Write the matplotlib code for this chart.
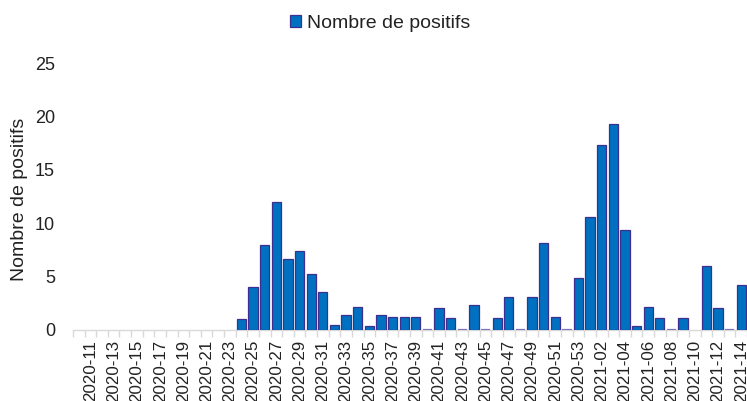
import numpy as np
import matplotlib
matplotlib.use('Agg')
import matplotlib.pyplot as plt
from matplotlib.patches import Patch

plt.rcParams['font.family'] = ['Liberation Sans', 'DejaVu Sans']

# semaines (la premiere categorie n'a pas d'etiquette affichee)
semaines = ['2020-10', '2020-11', '2020-12', '2020-13', '2020-14', '2020-15', '2020-16',
            '2020-17', '2020-18', '2020-19', '2020-20', '2020-21', '2020-22', '2020-23',
            '2020-24', '2020-25', '2020-26', '2020-27', '2020-28', '2020-29', '2020-30',
            '2020-31', '2020-32', '2020-33', '2020-34', '2020-35', '2020-36', '2020-37',
            '2020-38', '2020-39', '2020-40', '2020-41', '2020-42', '2020-43', '2020-44',
            '2020-45', '2020-46', '2020-47', '2020-48', '2020-49', '2020-50', '2020-51',
            '2020-52', '2020-53', '2021-01', '2021-02', '2021-03', '2021-04', '2021-05',
            '2021-06', '2021-07', '2021-08', '2021-09', '2021-10', '2021-11', '2021-12',
            '2021-13', '2021-14']

nan = np.nan
positifs = [nan, nan, nan, nan, nan, nan, nan,
            nan, nan, nan, nan, nan, nan, nan,
            1.0, 4.0, 8.0, 12.0, 6.7, 7.4, 5.25,
            3.6, 0.45, 1.4, 2.2, 0.35, 1.4, 1.2,
            1.2, 1.2, 0, 2.05, 1.1, 0, 2.35,
            0, 1.1, 3.1, 0, 3.1, 8.2, 1.2,
            0, 4.85, 10.55, 17.3, 19.3, 9.4, 0.4,
            2.15, 1.1, 0, 1.1, nan, 6.0, 2.05,
            0, 4.2]

bleu = '#0070C0'
bord = '#3B2F8F'
gris = '#D9D9D9'
texte = '#222222'

fig = plt.figure(figsize=(7.47, 4.01), dpi=100)
ax = fig.add_axes([73 / 747, 71 / 401, 1 - 73 / 747, 266.7 / 401])

x = np.arange(len(semaines))
vals = np.array(positifs, dtype=float)
ax.bar(x, vals, width=0.8, color=bleu, edgecolor=bord, linewidth=0.9, zorder=3)

# les barres a zero restent visibles comme un trait
zeros = x[vals == 0]
ax.hlines(np.zeros(len(zeros)), zeros - 0.4, zeros + 0.4, color='#7E72BE',
          linewidth=1.6, zorder=4)

ax.set_xlim(-0.5, 57.3)
ax.set_ylim(0, 25)
ax.set_yticks(np.arange(0, 26, 5))

# etiquettes une semaine sur deux
ax.set_xticks(x[1::2])
ax.set_xticklabels(semaines[1::2], rotation=90)
ax.set_xticks(np.arange(-0.5, len(semaines), 1), minor=True)
ax.tick_params(axis='x', which='major', length=0, pad=7, labelsize=12.2, labelcolor=texte)
ax.tick_params(axis='x', which='minor', length=5, width=1, color=gris, direction='out')
ax.tick_params(axis='y', length=0, pad=13, labelsize=13, labelcolor=texte)

for s in ['top', 'right', 'left']:
    ax.spines[s].set_visible(False)
ax.spines['bottom'].set_color(gris)
ax.spines['bottom'].set_linewidth(1)

ax.set_ylabel('Nombre de positifs', fontsize=14, color=texte)
ax.yaxis.set_label_coords((20 - 73) / 674, 0.49)
ax.yaxis.label.set_va('center')

handle = Patch(facecolor=bleu, edgecolor=bord, linewidth=0.9)
fig.legend([handle], ['Nombre de positifs'], loc='center',
           bbox_to_anchor=(380 / 747, 1 - 23.5 / 401), frameon=False,
           fontsize=14, handlelength=0.55, handleheight=0.55, handletextpad=0.3,
           labelcolor=texte)

fig.savefig('out.png', dpi=100)
